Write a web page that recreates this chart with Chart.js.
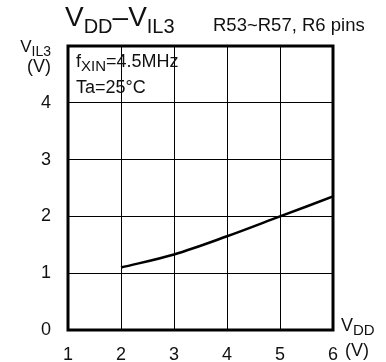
<!DOCTYPE html>
<html>
<head>
<meta charset="utf-8">
<script src="https://cdn.jsdelivr.net/npm/chart.js@4"></script>
<style>
  body { margin: 0; background: #fff; }
  #wrap { width: 386px; height: 362px; position: relative; }
</style>
</head>
<body>
<div id="wrap"><canvas id="vil_chart"></canvas></div>
<script>
var vdd = [2, 3, 4, 5, 6];
var vil3 = [1.1, 1.33, 1.65, 2.0, 2.35];
var xTicks = [1, 2, 3, 4, 5, 6];
var yTicks = [0, 1, 2, 3, 4];

var FONT = '"Liberation Sans", Arial, sans-serif';

// text with subscript, drawn at baseline y
function subText(ctx, x, y, main, sub, size, subSize, drop, align) {
    ctx.font = size + 'px ' + FONT;
    var w1 = ctx.measureText(main).width;
    ctx.font = subSize + 'px ' + FONT;
    var w2 = ctx.measureText(sub).width;
    var x0 = align === 'right' ? x - w1 - w2 : x;
    ctx.textAlign = 'left';
    ctx.textBaseline = 'alphabetic';
    ctx.font = size + 'px ' + FONT;
    ctx.fillText(main, x0, y);
    ctx.font = subSize + 'px ' + FONT;
    ctx.fillText(sub, x0 + w1, y + drop);
    return x0 + w1 + w2;
}

var textPlugin = {
    id: 'texts',
    afterDraw: function (chart) {
        var ctx = chart.ctx;
        var a = chart.chartArea;
        ctx.save();
        // frame
        ctx.strokeStyle = '#000';
        ctx.lineWidth = 3;
        ctx.strokeRect(a.left, a.top, a.right - a.left, a.bottom - a.top);

        ctx.fillStyle = '#111';
        // title
        var x = subText(ctx, 65, 26, 'V', 'DD', 28, 20, 7, 'left');
        ctx.font = '28px ' + FONT;
        ctx.fillText('\u2013', x, 26);
        x += ctx.measureText('\u2013').width;
        subText(ctx, x, 26, 'V', 'IL3', 28, 20, 7, 'left');

        ctx.font = '18.5px ' + FONT;
        ctx.fillText('R53~R57, R6 pins', 213, 31);

        // y axis title
        subText(ctx, 51, 52, 'V', 'IL3', 17, 14, 4, 'right');
        ctx.font = '18px ' + FONT;
        ctx.textAlign = 'right';
        ctx.fillText('(V)', 51, 72);

        // x axis title
        subText(ctx, 341, 331, 'V', 'DD', 18, 15, 4, 'left');
        ctx.font = '18px ' + FONT;
        ctx.textAlign = 'left';
        ctx.fillText('(V)', 345, 356);

        // conditions
        x = subText(ctx, 76, 67, 'f', 'XIN', 18, 15, 4, 'left');
        ctx.font = '18px ' + FONT;
        ctx.fillText('=4.5MHz', x, 67);
        ctx.fillText('Ta=25\u00B0C', 76, 93);
        ctx.restore();
    }
};

var CHART = document.getElementById('vil_chart').getContext('2d');
var vil_chart = new Chart(CHART, {
    type: 'line',
    data: {
        datasets: [{
            data: vdd.map(function (v, i) { return { x: v, y: vil3[i] }; }),
            borderColor: '#000',
            borderWidth: 2.5,
            pointRadius: 0,
            cubicInterpolationMode: 'monotone',
            fill: false
        }]
    },
    options: {
        responsive: true,
        maintainAspectRatio: false,
        animation: false,
        layout: { padding: { top: 46, right: 53, bottom: 0, left: 0 } },
        plugins: { legend: { display: false }, tooltip: { enabled: false } },
        scales: {
            x: {
                type: 'linear',
                min: 1,
                max: 6,
                afterFit: function (s) { s.height = 32; },
                afterBuildTicks: function (s) { s.ticks = xTicks.map(function (v) { return { value: v }; }); },
                grid: { color: '#000', lineWidth: 1, drawTicks: false },
                border: { display: false },
                ticks: { padding: 14, color: '#111', font: { family: FONT, size: 18 } }
            },
            y: {
                min: 0,
                max: 5,
                afterFit: function (s) { s.width = 68; },
                afterBuildTicks: function (s) { s.ticks = yTicks.concat([5]).map(function (v) { return { value: v }; }); },
                grid: { color: '#000', lineWidth: 1, drawTicks: false },
                border: { display: false },
                ticks: {
                    padding: 17,
                    color: '#111',
                    font: { family: FONT, size: 18 },
                    callback: function (v) { return yTicks.indexOf(v) >= 0 ? v : ''; }
                }
            }
        }
    },
    plugins: [textPlugin]
});
</script>
</body>
</html>
